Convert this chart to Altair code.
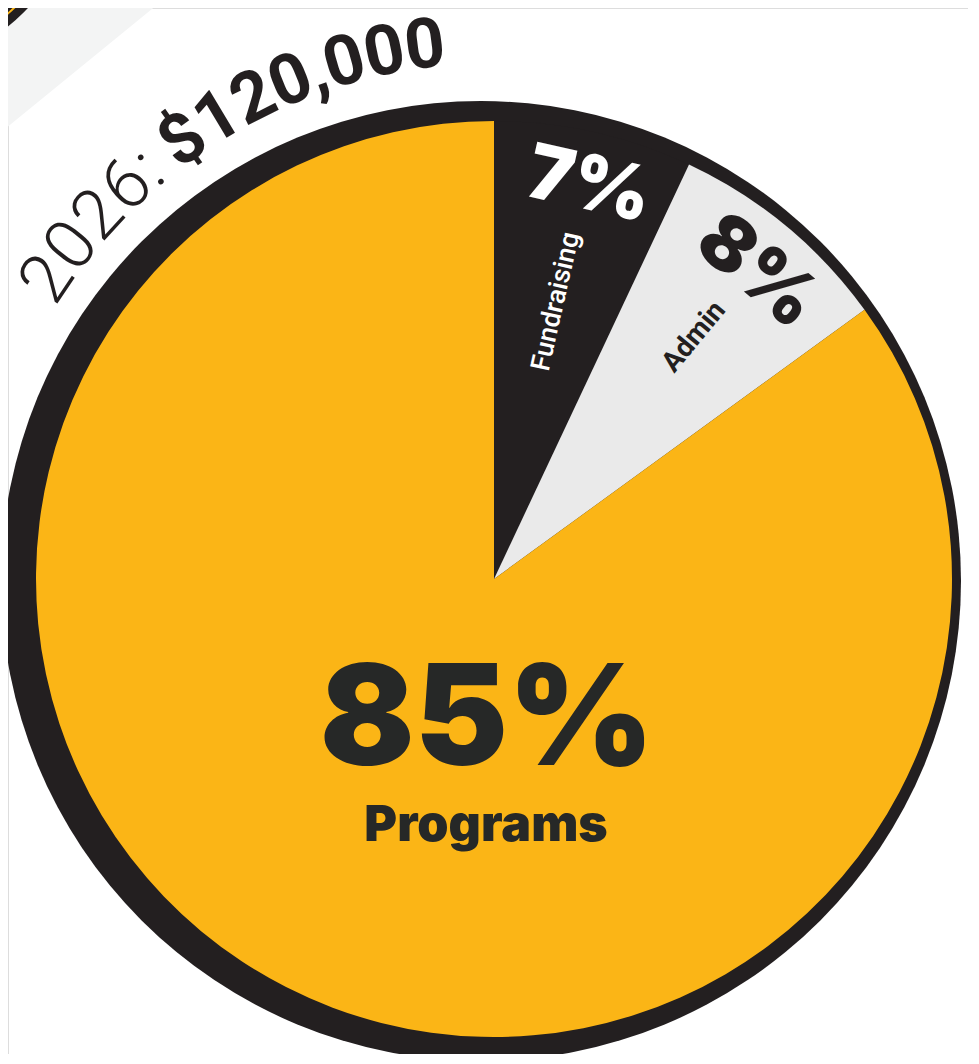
import math
import altair as alt
import pandas as pd

# ---- data -------------------------------------------------------------
categories = ["Fundraising", "Admin", "Programs"]
shares = [7, 8, 85]
pct_labels = ["7%", "8%", "85%"]
slice_colors = ["#231F20", "#EAEAEA", "#FBB516"]
label_colors = ["#FFFFFF", "#231F20", "#262827"]
name_weights = [500, 700, 900]
title_year = "2026:"
title_amount = "$120,000"

# ---- layout constants ---------------------------------------------------
W, H = 960, 1046
CX, CY, R = 486, 571, 458          # pie centre / radius (plot px)
RING_CX, RING_CY, RING_R = 473, 573, 480
TITLE_R = 516
TITLE_START = -58.3                # degrees, from 12 o'clock clockwise
TITLE_SIZE = 70
INK = "#231F20"
YELLOW = "#FBB516"

total = sum(shares)

# ---- decorations --------------------------------------------------------
tri_df = pd.DataFrame({"x": [-8, 155], "y": [-8, -8], "y2": [125, -8]})
tri = alt.Chart(tri_df).mark_area(color="#F3F4F4").encode(
    x=alt.X("x:Q", scale=None, axis=None),
    y=alt.Y("y:Q", scale=None, axis=None),
    y2="y2:Q",
)

one = pd.DataFrame({"k": [0]})
corner = alt.Chart(one).mark_arc(theta=0, theta2=6.2832, outerRadius=191, color=INK).encode(
    x=alt.value(-120), y=alt.value(-130))
corner_line = alt.Chart(one).mark_arc(theta=1.6, theta2=3.0, innerRadius=180, outerRadius=182,
                                      color=YELLOW).encode(x=alt.value(-120), y=alt.value(-130))

ring = alt.Chart(one).mark_arc(theta=0, theta2=6.2832, outerRadius=RING_R, color=INK).encode(
    x=alt.value(RING_CX), y=alt.value(RING_CY))

# ---- pie ----------------------------------------------------------------
pie_df = pd.DataFrame({"category": categories, "share": shares, "order": list(range(len(shares)))})
pie = alt.Chart(pie_df).mark_arc(outerRadius=R).encode(
    theta=alt.Theta("share:Q", stack=True, scale=alt.Scale(domain=[0, total], range=[0, 2 * math.pi])),
    color=alt.Color("category:N", scale=alt.Scale(domain=categories, range=slice_colors), legend=None),
    order=alt.Order("order:Q"),
    x=alt.value(CX), y=alt.value(CY),
)

# ---- slice labels (from mid angles) ------------------------------------
def polar(theta_deg, r):
    t = math.radians(theta_deg)
    return CX + r * math.sin(t), CY - r * math.cos(t)

cum = 0
small_pct, small_name = [], []
for cat, s, lab, col, wt in zip(categories, shares, pct_labels, label_colors, name_weights):
    mid = (cum + s / 2) / total * 360
    cum += s
    if s < 50:
        px, py = polar(mid + 1.0, 404)
        small_pct.append({"t": lab, "x": px, "y": py, "a": mid % 360, "c": col})
        nx, ny = polar(mid, 355)
        small_name.append({"t": cat, "x": nx, "y": ny, "a": (mid - 90) % 360, "c": col, "w": wt})

pct_layer = alt.Chart(pd.DataFrame(small_pct)).mark_text(
    font="Inter", fontWeight=900, fontSize=76, align="center", baseline="middle").encode(
    x=alt.X("x:Q", scale=None), y=alt.Y("y:Q", scale=None),
    text="t:N", angle=alt.Angle("a:Q", scale=None), color=alt.Color("c:N", scale=None))

name_df = pd.DataFrame(small_name)
name_layers = []
for wt, size in ((500, 27), (700, 28)):
    name_layers.append(alt.Chart(name_df[name_df.w == wt]).mark_text(
        font="Roboto", fontWeight=wt, fontSize=size, align="right", baseline="middle").encode(
        x=alt.X("x:Q", scale=None), y=alt.Y("y:Q", scale=None),
        text="t:N", angle=alt.Angle("a:Q", scale=None), color=alt.Color("c:N", scale=None)))

big_df = pd.DataFrame({"t": [pct_labels[2]], "n": [categories[2]]})
big_pct = alt.Chart(big_df).mark_text(
    font="Inter", fontWeight=900, fontSize=140, align="center", baseline="alphabetic",
    color="#262827").encode(text="t:N", x=alt.value(CX - 7), y=alt.value(CY + 186))
big_name = alt.Chart(big_df).mark_text(
    font="Inter", fontWeight=900, fontSize=50, align="center", baseline="alphabetic",
    color="#262827").encode(text="n:N", x=alt.value(CX - 8), y=alt.value(CY + 262))

# ---- curved title -------------------------------------------------------
def adv(ch, group):
    if ch.isdigit():
        return 0.562
    return {":": 0.22, "$": 0.57, ",": 0.22, " ": 0.2}[ch]

rows = []
pos = 0.0
for group, txt in (("light", title_year), ("gap", " "), ("bold", title_amount)):
    for ch in txt:
        w = adv(ch, group) * TITLE_SIZE
        if group != "gap":
            th = TITLE_START + math.degrees((pos + w / 2) / TITLE_R)
            t = math.radians(th)
            rows.append({"ch": ch, "g": group,
                         "x": CX + TITLE_R * math.sin(t), "y": CY - TITLE_R * math.cos(t),
                         "a": th % 360})
        pos += w
title_df = pd.DataFrame(rows)

def title_layer(group, font, weight):
    return alt.Chart(title_df[title_df.g == group]).mark_text(
        font=font, fontWeight=weight, fontSize=TITLE_SIZE, align="center",
        baseline="alphabetic", color=INK).encode(
        x=alt.X("x:Q", scale=None), y=alt.Y("y:Q", scale=None),
        text="ch:N", angle=alt.Angle("a:Q", scale=None))

chart = alt.layer(
    tri, corner, corner_line, ring, pie,
    title_layer("light", "Roboto", 300), title_layer("bold", "Roboto", 700),
    pct_layer, *name_layers, big_pct, big_name,
).properties(width=W, height=H, padding=0, autosize=alt.AutoSizeParams(type="none")
).configure_view(strokeWidth=0, stroke="transparent").configure(background="white")

chart.save("out.html", embed_options={"renderer": "svg", "actions": False})
